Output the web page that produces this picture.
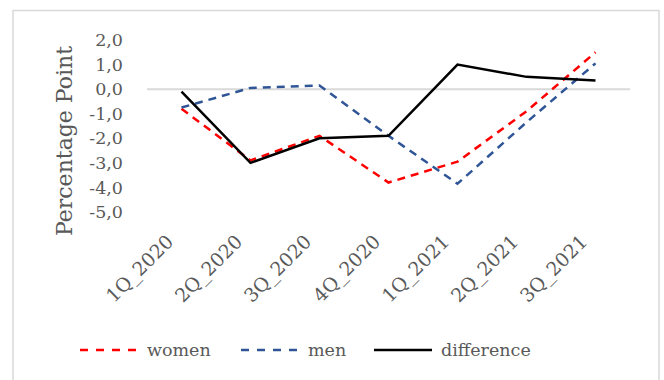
<!DOCTYPE html>
<html>
<head>
<meta charset="utf-8">
<script src="https://cdn.jsdelivr.net/npm/d3@7"></script>
<style>
  body { margin: 0; background: #fff; }
  text { font-family: 'DejaVu Serif', serif; fill: #595959; }
</style>
</head>
<body>
<div id="chart"></div>
<script>
const quarters = ['1Q_2020', '2Q_2020', '3Q_2020', '4Q_2020', '1Q_2021', '2Q_2021', '3Q_2021']
const women = [-0.8, -2.9, -1.9, -3.8, -2.95, -0.9, 1.5]
const men = [-0.75, 0.05, 0.15, -1.9, -3.85, -1.35, 1.05]
const difference = [-0.1, -3.0, -2.0, -1.9, 1.0, 0.5, 0.35]
const yTicks = [2, 1, 0, -1, -2, -3, -4, -5]

const width = 664
const height = 380

const svg = d3
  .select('#chart')
  .append('svg')
  .attr('width', width)
  .attr('height', height)

// chart frame
svg
  .append('rect')
  .attr('x', 13)
  .attr('y', 10.5)
  .attr('width', 646)
  .attr('height', 400)
  .attr('fill', 'none')
  .attr('stroke', '#d9d9d9')
  .attr('stroke-width', 1.5)

const xPositionScale = d3
  .scaleBand()
  .domain(quarters)
  .range([147, 630])

const yPositionScale = d3
  .scaleLinear()
  .domain([-5, 2])
  .range([212, 40])

const xc = d => xPositionScale(d) + xPositionScale.bandwidth() / 2

// y labels
const yAxis = d3
  .axisLeft(yPositionScale)
  .tickValues(yTicks)
  .tickSize(0)
  .tickPadding(0)
  .tickFormat(d => d3.format('.1f')(d).replace('.', ',').replace('−', '-'))

svg
  .append('g')
  .attr('class', 'axis y-axis')
  .attr('transform', 'translate(123,0)')
  .call(yAxis)
  .call(g => g.select('.domain').remove())
  .selectAll('text')
  .attr('font-size', '17.5px')
  .attr('font-family', 'DejaVu Serif')
  .attr('fill', '#595959')

// zero line
svg
  .append('line')
  .attr('x1', 147)
  .attr('x2', 630)
  .attr('y1', yPositionScale(0))
  .attr('y2', yPositionScale(0))
  .attr('stroke', '#d9d9d9')
  .attr('stroke-width', 2)

// x labels, rotated
svg
  .append('g')
  .selectAll('text')
  .data(quarters)
  .enter()
  .append('text')
  .text(d => d)
  .attr('font-size', '19px')
  .attr('text-anchor', 'end')
  .attr('transform', d => 'translate(' + (xc(d) - 7) + ',' + 243 + ') rotate(-45)')

svg
  .append('text')
  .text('Percentage Point')
  .attr('font-size', '22px')
  .attr('text-anchor', 'middle')
  .attr('transform', 'translate(72,141) rotate(-90)')

const series = [
  { name: 'women', values: women, color: '#ff0000', dash: '8,6' },
  { name: 'men', values: men, color: '#2f5597', dash: '8,6' },
  { name: 'difference', values: difference, color: '#000000', dash: null }
]

const line = d3
  .line()
  .x((d, i) => xc(quarters[i]))
  .y(d => yPositionScale(d))

series.forEach(s => {
  svg
    .append('path')
    .datum(s.values)
    .attr('d', line)
    .attr('fill', 'none')
    .attr('stroke', s.color)
    .attr('stroke-width', 2.5)
    .attr('stroke-dasharray', s.dash)
})

// legend
const legendX = [80, 241, 374]
series.forEach((s, i) => {
  svg
    .append('line')
    .attr('x1', legendX[i])
    .attr('x2', legendX[i] + 58)
    .attr('y1', 350)
    .attr('y2', 350)
    .attr('stroke', s.color)
    .attr('stroke-width', 2.5)
    .attr('stroke-dasharray', s.dash ? '8,8' : null)
  svg
    .append('text')
    .text(s.name)
    .attr('x', legendX[i] + 67)
    .attr('y', 350)
    .attr('dy', '0.35em')
    .attr('font-size', '17.5px')
})
</script>
</body>
</html>
